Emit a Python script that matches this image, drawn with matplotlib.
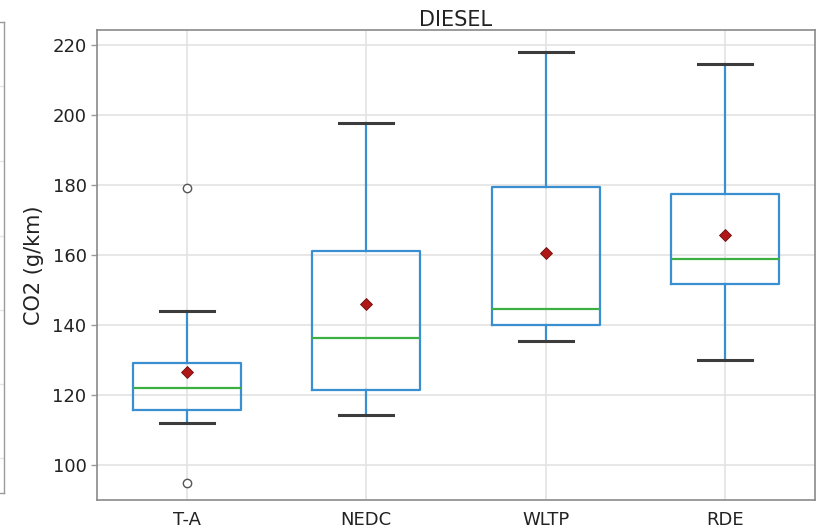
import matplotlib
matplotlib.use("Agg")
import matplotlib.pyplot as plt
import numpy as np

categories = ["T-A", "NEDC", "WLTP", "RDE"]
whislo = [112.0, 114.3, 135.4, 130.0]
q1 = [115.7, 121.4, 140.0, 151.6]
med = [122.0, 136.2, 144.5, 158.9]
q3 = [129.1, 161.1, 179.5, 177.4]
whishi = [144.0, 197.6, 218.1, 214.6]
means = [126.6, 145.9, 160.5, 165.7]
fliers = [[179.1, 94.9], [], [], []]

W, H = 826, 528
fig = plt.figure(figsize=(W / 100, H / 100), dpi=100)

# partial neighbouring panel at the far left
axl = fig.add_axes([-0.3, 1 - 493 / H, 0.3 + 4 / W, (493 - 22) / H])
axl.set_ylim(0, 6.33)
axl.set_yticks([0.47, 1.47, 2.46, 3.46, 4.46, 5.47])
axl.set_xticks([])
axl.tick_params(axis="y", length=0, labelleft=False)
axl.grid(True, axis="y", color="#e6e6e6", lw=1)
for s in axl.spines.values():
    s.set_color("#9a9a9a")
    s.set_linewidth(1)

ax = fig.add_axes([97 / W, 1 - 500 / H, (815 - 97) / W, (500 - 30) / H])
stats = []
for i, c in enumerate(categories):
    stats.append(dict(label=c, whislo=whislo[i], q1=q1[i], med=med[i], q3=q3[i],
                      whishi=whishi[i], mean=means[i], fliers=fliers[i]))

ax.bxp(stats, positions=np.arange(1, len(categories) + 1), widths=0.6,
       showmeans=True, patch_artist=False,
       boxprops=dict(color="#3a8fd0", lw=1.6),
       whiskerprops=dict(color="#3a8fd0", lw=1.6),
       capprops=dict(color="#3c3c3c", lw=2.2),
       medianprops=dict(color="#3cb043", lw=1.6),
       meanprops=dict(marker="D", markerfacecolor="#b01818", markeredgecolor="#6a1010",
                      markersize=6.5, markeredgewidth=0.6),
       flierprops=dict(marker="o", markerfacecolor="white", markeredgecolor="#555555",
                       markersize=6, markeredgewidth=1))

ax.set_xlim(0.5, 4.5)
ax.set_ylim(90, 224.3)
ax.set_yticks([100, 120, 140, 160, 180, 200, 220])
ax.grid(True, color="#e3e3e3", lw=1.2)
ax.set_axisbelow(True)
for s in ax.spines.values():
    s.set_color("#8a8a8a")
    s.set_linewidth(1.2)
ax.tick_params(axis="both", labelsize=13, colors="#9a9a9a", labelcolor="#222222",
               length=4, width=1)
ax.tick_params(axis="x", length=0, pad=8)
ax.set_ylabel("CO2 (g/km)", fontsize=15, color="#222222", labelpad=6)
ax.set_title("DIESEL", fontsize=15, color="#222222", pad=3)

fig.savefig("out.png", dpi=100)
